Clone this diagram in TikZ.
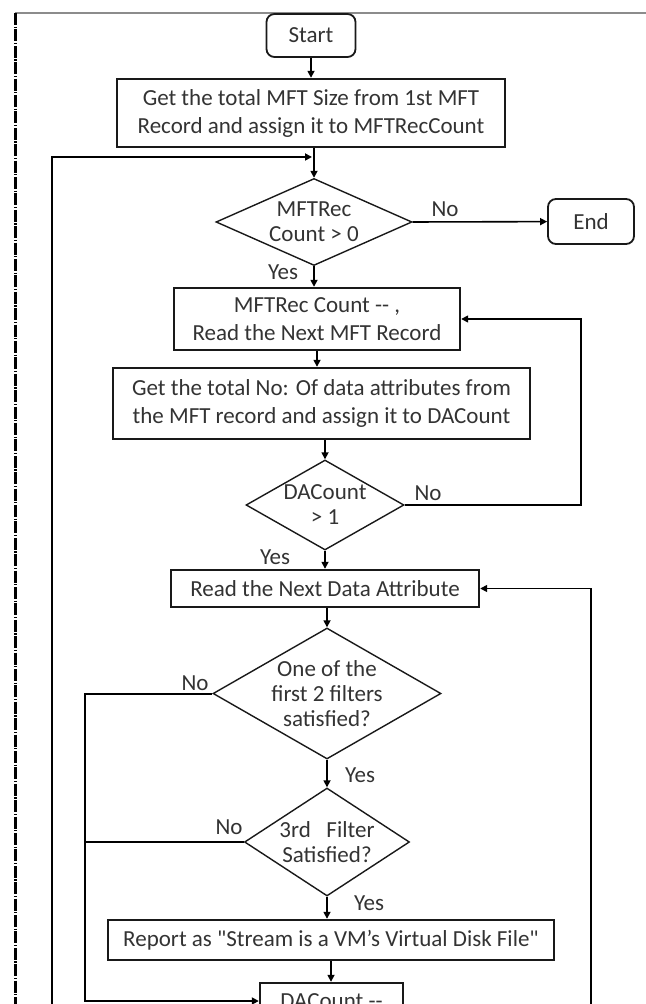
\documentclass[tikz,border=0pt]{standalone}
\usepackage{fontspec}
\setmainfont{Carlito}
\usetikzlibrary{arrows.meta, shapes.geometric}

\begin{document}
\begin{tikzpicture}[x=0.5pt, y=-0.5pt,
        font=\fontsize{11.5}{14}\selectfont,
        every node/.style={text=black!80},
        procbox/.style={draw=black!90, line width=1.2pt, align=center, inner sep=1pt},
        termbox/.style={draw=black!90, line width=0.9pt, rounded corners=4pt, align=center},
        decision/.style={draw=black!90, line width=0.7pt, diamond, align=center, inner sep=0pt,
            font=\fontsize{11.5}{12.5}\selectfont},
        flow/.style={line width=0.8pt, -{Triangle[length=3.5pt, width=3.5pt]}},
        rail/.style={line width=1pt},
        answer/.style={inner sep=0pt}]

        \useasboundingbox (0,0) rectangle (646,1004);
        \clip (0,0) rectangle (646,1004);

        % Page edges
        \draw[black!45, line width=1.4pt] (15,13) -- (646,13);
        \draw[line width=1.5pt, dash pattern=on 6pt off 0.8pt on 0.6pt off 0.8pt] (15,13) -- (15,1004);

        % Start and end
        \node[termbox, minimum width=44.5pt, minimum height=21.5pt] (start) at (311,35.5) {Start};
        \node[termbox, minimum width=43pt, minimum height=22.5pt] (end) at (591,221.5) {End};

        % Processing boxes
        \node[procbox, minimum width=194pt, minimum height=34pt] (box1) at (311,113)
            {Get the total MFT Size from 1st MFT\\Record and assign it to MFTRecCount};
        \node[procbox, minimum width=143pt, minimum height=31pt] (box2) at (317,319)
            {MFTRec Count -{}- ,\\Read the Next MFT Record};
        \node[procbox, minimum width=208.5pt, minimum height=35.5pt] (box3) at (321.5,403.5)
            {Get the total No: Of data attributes from\\the MFT record and assign it to DACount};
        \node[procbox, minimum width=154pt, minimum height=18.5pt] (box4) at (325,588.5)
            {Read the Next Data Attribute};
        \node[procbox, minimum width=223pt, minimum height=20pt] (report) at (331,940)
            {Report as \textquotedbl Stream is a VM’s Virtual Disk File\textquotedbl};
        \node[procbox, minimum width=71.5pt, minimum height=18pt] (dacnt) at (331.5,1001)
            {DACount -{}-};

        % Decisions
        \node[decision, aspect=2.25, minimum width=98pt, minimum height=43.5pt] (dec1) at (314,222)
            {MFTRec\\Count > 0};
        \node[decision, aspect=1.78, minimum width=79pt, minimum height=45pt] (dec2) at (325,505)
            {DACount\\> 1};
        \node[decision, aspect=1.74, minimum width=114pt, minimum height=65.5pt] (dec3) at (327,693.5)
            {One of the\\first 2 filters\\satisfied?};
        \node[decision, aspect=1.53, minimum width=82.5pt, minimum height=54pt] (dec4) at (327,842)
            {3rd\ \ \ Filter\\Satisfied?};

        % Yes / No labels
        \node[answer] (no1) at (445,209) {No};
        \node[answer] (yes1) at (283,272) {Yes};
        \node[answer] (no2) at (428,493) {No};
        \node[answer] (yes2) at (275,557) {Yes};
        \node[answer] (no3) at (195,683) {No};
        \node[answer] (yes3) at (360,775) {Yes};
        \node[answer] (no4) at (229,827) {No};
        \node[answer] (yes4) at (369,903) {Yes};

        % Free ends and joints
        \coordinate (loopL) at (52,1012);
        \coordinate (loopR) at (591,1012);
        \coordinate (joinTop) at (312,157);
        \coordinate (leftrail) at (85,693.5);

        % Main column
        \draw[flow] (start) -- (box1);
        \draw[flow] (box1.south -| dec1.north) -- (dec1.north);
        \draw[flow] (dec1.east) -- (end);
        \draw[flow] (dec1.south) -- (dec1.south |- box2.north);
        \draw[flow] (box2.south) -- (box2.south |- box3.north);
        \draw[flow] (box3.south -| dec2.north) -- (dec2.north);
        \draw[flow] (dec2.south) -- (dec2.south |- box4.north);
        \draw[flow] (box4.south -| dec3.north) -- (dec3.north);
        \draw[flow] (dec3.south) -- (dec4.north);
        \draw[flow] (dec4.south) -- (dec4.south |- report.north);
        \draw[flow] (report.south) -- (report.south |- dacnt.north);

        % Loops back
        \draw[flow, rail] (loopL) |- (joinTop);
        \draw[flow] (dec2.east) -- ++(176.5,0) |- (box2.east);
        \draw[flow] (loopR) |- (box4.east);
        \draw[flow, rail] (dec3.west) -- (leftrail) |- (dacnt.west);
        \draw[rail] (dec4.west) -- (dec4.west -| leftrail);
\end{tikzpicture}
\end{document}
